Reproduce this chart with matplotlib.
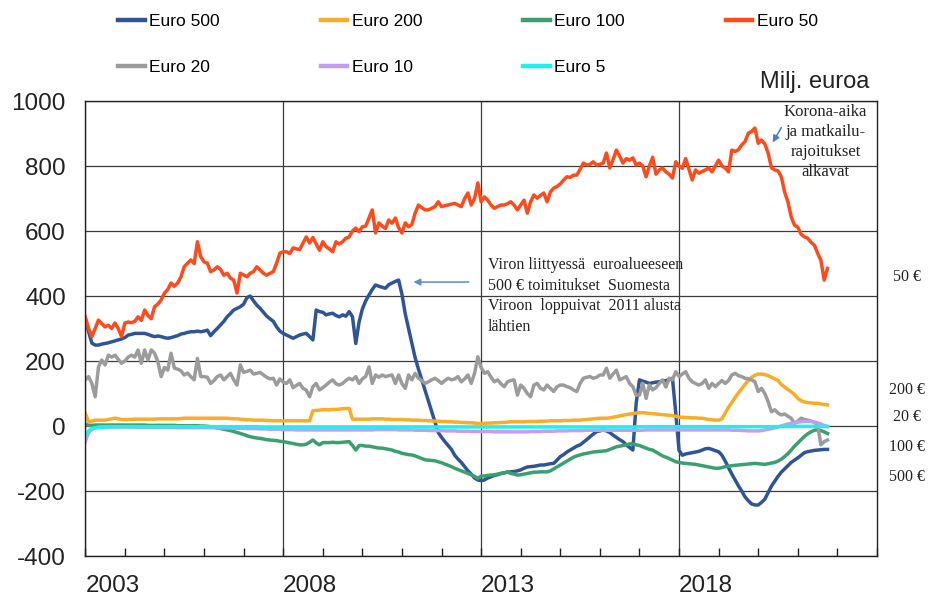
"""
Euro banknote net issuance by denomination, Finland (monthly, million euro).
"""
import numpy as np
import matplotlib.pyplot as plt
from matplotlib.ticker import MultipleLocator

plt.rcParams['font.family'] = ['Liberation Sans', 'DejaVu Sans']
plt.rcParams['axes.unicode_minus'] = False
serif = ['Liberation Serif', 'DejaVu Serif']

# monthly values from Jan 2003, one row per year (2021 ends in October)
euro500 = [
    326, 290, 255, 249, 249, 252, 254, 256, 259, 262, 265, 268,
    272, 280, 282, 285, 285, 285, 285, 282, 278, 275, 277, 275,
    272, 270, 272, 275, 278, 283, 285, 288, 290, 290, 292, 290,
    292, 295, 278, 290, 300, 311, 322, 336, 346, 357, 362, 367,
    375, 395, 400, 385, 372, 362, 350, 338, 330, 322, 305, 292,
    285, 280, 275, 270, 275, 280, 283, 285, 275, 265, 357, 352,
    350, 342, 345, 347, 340, 336, 342, 338, 352, 336, 254, 320,
    360, 385, 403, 420, 434, 430, 427, 424, 435, 440, 445, 449,
    405, 345, 300, 255, 210, 175, 142, 110, 78, 45, 12, -20,
    -35, -48, -60, -72, -90, -102, -112, -125, -138, -148, -160, -166,
    -168, -166, -160, -156, -152, -150, -146, -144, -142, -141, -140, -138,
    -135, -130, -126, -125, -124, -122, -120, -120, -118, -116, -115, -105,
    -94, -88, -80, -74, -68, -62, -58, -50, -42, -33, -25, -17,
    -15, -12, -15, -20, -28, -35, -42, -48, -58, -66, -74, 70,
    142, 138, 135, 131, 133, 135, 136, 138, 140, 142, 147, 40,
    -75, -90, -86, -84, -82, -80, -78, -74, -70, -69, -72, -76,
    -79, -90, -108, -128, -148, -166, -184, -200, -218, -230, -240, -243,
    -243, -235, -225, -205, -185, -170, -155, -142, -132, -122, -112, -105,
    -98, -90, -82, -79, -77, -75, -74, -73, -72, -72,
]

euro200 = [
    39, 13, 15, 18, 18, 18, 18, 20, 22, 24, 22, 20,
    20, 20, 20, 21, 21, 21, 21, 21, 21, 21, 22, 22,
    22, 22, 22, 22, 22, 23, 24, 24, 24, 24, 24, 24,
    24, 24, 24, 24, 24, 24, 24, 24, 23, 22, 22, 21,
    20, 19, 19, 18, 18, 18, 18, 17, 17, 16, 16, 16,
    16, 16, 16, 16, 16, 16, 16, 16, 16, 47, 48, 49,
    50, 50, 50, 51, 51, 52, 53, 54, 54, 21, 21, 21,
    21, 21, 21, 22, 22, 22, 22, 21, 21, 20, 20, 20,
    20, 19, 19, 18, 18, 18, 17, 17, 16, 16, 15, 15,
    14, 14, 13, 13, 12, 12, 11, 11, 10, 10, 9, 8,
    8, 8, 9, 9, 10, 10, 11, 11, 12, 13, 13, 13,
    13, 13, 14, 14, 14, 14, 15, 15, 15, 16, 16, 16,
    16, 17, 17, 17, 18, 18, 18, 19, 20, 21, 22, 23,
    24, 24, 24, 25, 27, 29, 31, 33, 35, 37, 38, 40,
    41, 41, 40, 39, 38, 37, 36, 35, 34, 33, 32, 30,
    27, 27, 26, 26, 25, 25, 24, 24, 22, 20, 19, 18,
    18, 22, 40, 58, 72, 88, 102, 115, 128, 140, 150, 156,
    160, 160, 158, 155, 150, 145, 140, 128, 120, 113, 105, 97,
    85, 78, 74, 72, 71, 70, 70, 68, 66, 65,
]

euro100 = [
    5, 2, 2, 3, 3, 3, 3, 3, 3, 3, 3, 3,
    3, 3, 3, 3, 3, 3, 3, 2, 2, 2, 2, 2,
    2, 2, 2, 2, 1, 1, 1, 1, 1, 1, 1, 0,
    0, -1, -2, -4, -6, -8, -10, -12, -14, -17, -20, -23,
    -26, -30, -33, -35, -37, -38, -40, -42, -43, -44, -45, -47,
    -48, -50, -52, -54, -56, -58, -58, -56, -50, -43, -52, -58,
    -51, -51, -51, -50, -51, -51, -50, -49, -48, -60, -74, -60,
    -60, -62, -62, -64, -66, -68, -68, -70, -72, -74, -78, -80,
    -84, -86, -88, -89, -92, -96, -100, -104, -105, -106, -107, -110,
    -113, -117, -121, -125, -130, -134, -138, -142, -146, -150, -155, -161,
    -154, -154, -152, -151, -150, -148, -146, -144, -141, -146, -148, -151,
    -150, -148, -146, -144, -142, -142, -141, -141, -141, -138, -132, -126,
    -120, -114, -108, -102, -96, -92, -89, -86, -84, -82, -80, -79,
    -78, -77, -76, -72, -68, -64, -62, -60, -58, -55, -55, -58,
    -60, -64, -68, -72, -74, -80, -86, -92, -96, -100, -105, -110,
    -112, -114, -115, -116, -117, -118, -120, -122, -124, -126, -128, -130,
    -130, -128, -125, -124, -122, -121, -120, -119, -118, -117, -116, -115,
    -116, -117, -118, -116, -114, -112, -108, -102, -94, -85, -74, -62,
    -52, -42, -32, -24, -18, -13, -12, -14, -18, -23,
]

euro50 = [
    336, 300, 275, 300, 326, 315, 305, 310, 300, 317, 300, 275,
    317, 320, 318, 322, 336, 325, 357, 340, 330, 367, 375, 388,
    409, 420, 440, 430, 440, 459, 490, 501, 511, 500, 567, 521,
    505, 501, 475, 480, 490, 482, 464, 470, 455, 449, 409, 470,
    465, 459, 470, 475, 490, 480, 470, 464, 470, 475, 501, 532,
    536, 536, 531, 548, 545, 543, 563, 582, 563, 580, 560, 541,
    567, 552, 545, 536, 567, 560, 567, 578, 582, 600, 609, 598,
    613, 615, 640, 665, 594, 625, 615, 608, 634, 624, 640, 610,
    594, 625, 613, 620, 655, 680, 672, 665, 665, 670, 675, 690,
    675, 678, 680, 683, 685, 680, 675, 700, 717, 680, 700, 748,
    690, 705, 695, 680, 670, 675, 680, 680, 684, 690, 680, 665,
    680, 695, 655, 690, 711, 701, 710, 717, 690, 720, 732, 737,
    745, 757, 767, 765, 772, 772, 790, 809, 803, 805, 813, 803,
    805, 809, 840, 794, 820, 849, 830, 809, 823, 818, 825, 803,
    809, 800, 767, 800, 827, 775, 788, 794, 782, 775, 763, 813,
    800, 793, 823, 790, 757, 788, 778, 783, 788, 794, 782, 800,
    818, 800, 794, 782, 849, 845, 850, 865, 875, 901, 906, 917,
    870, 880, 868, 840, 795, 788, 785, 767, 720, 690, 644, 618,
    612, 590, 582, 578, 565, 557, 532, 510, 449, 485,
]

euro20 = [
    142, 152, 131, 90, 182, 203, 188, 218, 212, 218, 205, 193,
    200, 212, 218, 212, 234, 193, 234, 203, 234, 224, 198, 152,
    180, 172, 224, 178, 175, 170, 157, 163, 152, 142, 208, 152,
    152, 150, 131, 140, 152, 157, 142, 152, 162, 142, 126, 188,
    165, 168, 172, 160, 162, 165, 157, 150, 145, 147, 126, 145,
    135, 131, 142, 118, 125, 131, 116, 110, 90, 121, 131, 111,
    118, 126, 135, 142, 130, 126, 131, 140, 147, 142, 152, 131,
    145, 152, 182, 131, 157, 150, 157, 152, 155, 157, 131, 157,
    130, 116, 157, 142, 162, 147, 140, 131, 136, 142, 147, 140,
    131, 140, 147, 142, 145, 152, 136, 145, 157, 131, 162, 213,
    180, 162, 167, 150, 136, 142, 130, 121, 136, 140, 142, 95,
    126, 116, 100, 90, 126, 131, 116, 111, 126, 116, 106, 121,
    126, 126, 121, 118, 111, 106, 131, 147, 150, 152, 147, 150,
    157, 157, 178, 147, 160, 172, 142, 147, 152, 131, 121, 95,
    95, 131, 85, 126, 111, 118, 131, 142, 120, 147, 142, 167,
    152, 160, 167, 147, 136, 131, 126, 131, 142, 116, 131, 121,
    131, 140, 131, 140, 157, 162, 155, 152, 147, 145, 142, 136,
    106, 116, 100, 75, 44, 50, 40, 34, 37, 30, 24, 8,
    15, 24, 20, 18, 15, 12, 3, -58, -48, -43,
]

euro10 = [
    -48, -20, -10, -6, -4, -3, -3, -3, -3, -3, -3, -3,
    -3, -3, -3, -4, -4, -4, -4, -4, -4, -4, -4, -4,
    -4, -4, -4, -4, -5, -5, -5, -5, -5, -5, -5, -5,
    -5, -5, -5, -5, -6, -6, -6, -6, -6, -7, -7, -7,
    -7, -8, -8, -8, -8, -9, -9, -9, -10, -10, -10, -10,
    -11, -11, -11, -11, -12, -12, -12, -12, -12, -12, -12, -12,
    -12, -12, -12, -12, -12, -12, -12, -12, -12, -12, -12, -12,
    -12, -12, -12, -12, -11, -11, -11, -11, -11, -11, -11, -12,
    -12, -12, -12, -12, -13, -13, -13, -13, -14, -14, -14, -14,
    -14, -15, -15, -15, -15, -16, -16, -16, -16, -17, -17, -17,
    -17, -17, -17, -17, -18, -18, -18, -18, -18, -18, -18, -18,
    -18, -18, -18, -17, -17, -17, -17, -16, -16, -16, -16, -15,
    -15, -15, -15, -14, -14, -14, -14, -14, -13, -13, -13, -13,
    -13, -13, -13, -13, -13, -13, -13, -13, -13, -13, -13, -13,
    -13, -13, -12, -12, -12, -12, -12, -12, -12, -12, -12, -12,
    -12, -12, -12, -12, -12, -12, -12, -12, -12, -12, -12, -12,
    -12, -12, -12, -12, -13, -13, -13, -14, -14, -15, -15, -15,
    -15, -14, -12, -10, -8, -6, -3, 0, 3, 6, 8, 10,
    12, 13, 14, 14, 14, 12, 10, 6, 2, -2,
]

euro5 = [
    -30, -15, -8, -5, -4, -3, -3, -2, -2, -2, -2, -2,
    -2, -2, -2, -2, -2, -2, -2, -2, -2, -2, -2, -2,
    -2, -2, -2, -2, -2, -2, -2, -2, -2, -2, -2, -2,
    -2, -2, -2, -2, -2, -2, -2, -2, -2, -2, -2, -2,
    -2, -2, -2, -2, -2, -3, -3, -3, -3, -3, -3, -3,
    -3, -3, -3, -3, -3, -3, -3, -3, -3, -3, -3, -3,
    -3, -3, -3, -3, -3, -3, -3, -3, -3, -3, -3, -3,
    -3, -3, -3, -3, -3, -3, -3, -3, -3, -3, -3, -3,
    -3, -3, -3, -3, -3, -3, -3, -3, -3, -3, -3, -3,
    -3, -3, -3, -3, -3, -3, -3, -3, -3, -3, -3, -3,
    -3, -3, -3, -3, -3, -3, -3, -3, -3, -3, -3, -3,
    -3, -3, -3, -3, -3, -3, -3, -3, -3, -3, -3, -3,
    -3, -3, -3, -3, -3, -3, -3, -3, -3, -3, -3, -3,
    -3, -3, -3, -3, -3, -3, -3, -3, -3, -3, -3, -3,
    -2, -2, -2, -2, -2, -2, -2, -2, -2, -2, -2, -2,
    -2, -2, -2, -2, -2, -2, -2, -2, -2, -2, -2, -2,
    -2, -2, -2, -2, -2, -2, -2, -2, -2, -2, -2, -2,
    -2, -2, -2, -2, -2, -2, -2, -1, -1, -1, -1, -1,
    -1, -1, -1, -1, -1, -1, -1, -1, -1, -1,
]

names = ["Euro 500", "Euro 200", "Euro 100", "Euro 50", "Euro 20", "Euro 10", "Euro 5"]
colors = ["#2F5597", "#F9AC25", "#3BA070", "#FF4A1C", "#9B9B9B", "#C49CF2", "#1EEFEF"]
side_labels = ["50 €", "200 €", "20 €", "100 €", "500 €"]
side_label_y = [459, 111, 29, -64, -156]

months = 2003 + np.arange(len(euro50)) / 12.0

fig = plt.figure(figsize=(9.29, 5.96), dpi=100)
ax = fig.add_axes([0.0918, 0.0671, 0.8522, 0.7634])

lines = []
for name, vals, col in zip(names, [euro500, euro200, euro100, euro50, euro20, euro10, euro5], colors):
    ln, = ax.plot(months[:len(vals)], vals, color=col, lw=2.5, label=name,
                  solid_joinstyle='round')
    lines.append(ln)

ax.set_xlim(2003, 2023)
ax.set_ylim(-400, 1000)
ax.set_yticks(range(-400, 1001, 200))
ax.set_xticks([2003, 2008, 2013, 2018])
ax.set_xticklabels(["2003", "2008", "2013", "2018"])
for lbl in ax.get_xticklabels():
    lbl.set_horizontalalignment('left')
ax.xaxis.set_minor_locator(MultipleLocator(1))
ax.tick_params(axis='x', which='both', direction='in', length=6, width=1,
               labelsize=17.5, pad=14, colors='#222222')
ax.tick_params(axis='y', length=0, labelsize=17.5, pad=14, colors='#222222')
ax.grid(True, color='#3c3c3c', lw=0.9)
ax.set_axisbelow(True)
for s in ax.spines.values():
    s.set_color('#222222')
    s.set_linewidth(1.0)

# legend, row-major order in 4 columns
order = [0, 4, 1, 5, 2, 6, 3]
leg = fig.legend([lines[i] for i in order], [names[i] for i in order],
                 loc='upper left', bbox_to_anchor=(118 / 929, 1 - 14 / 596),
                 ncol=4, frameon=False, fontsize=12.5, handlelength=1.55,
                 handletextpad=0.25, columnspacing=5.8, labelspacing=1.75,
                 borderpad=0, borderaxespad=0)
for h in leg.get_lines():
    h.set_linewidth(3.2)

ax.text(0.991, 1.042, "Milj. euroa", transform=ax.transAxes, ha='right',
        va='center', fontsize=17, color='#222222')

ax.text(2013.17, 520, "Viron liittyessä  euroalueeseen\n500 € toimitukset  Suomesta\n"
        "Viroon  loppuivat  2011 alusta\nlähtien",
        family=serif, fontsize=11.5, linespacing=1.38, va='top', ha='left', color='#222222')
ax.annotate("", xy=(2011.22, 443), xytext=(2012.76, 443),
            arrowprops=dict(arrowstyle='-|>', color='#5B8FD0', lw=1.1, mutation_scale=10))

ax.text(2021.70, 990, "Korona-aika\nja matkailu-\nrajoitukset\nalkavat",
        family=serif, fontsize=12, linespacing=1.33, va='top', ha='center',
        multialignment='center', color='#222222')
ax.annotate("", xy=(2020.33, 865), xytext=(2020.62, 926),
            arrowprops=dict(arrowstyle='-|>', color='#4A7FC8', lw=1.1, mutation_scale=10))

for txt, yv in zip(side_labels, side_label_y):
    ax.text(1.038, yv, txt, transform=ax.get_yaxis_transform(), ha='center',
            va='center', family=serif, fontsize=11.5, color='#222222', clip_on=False)

fig.savefig('out.png', dpi=100)
